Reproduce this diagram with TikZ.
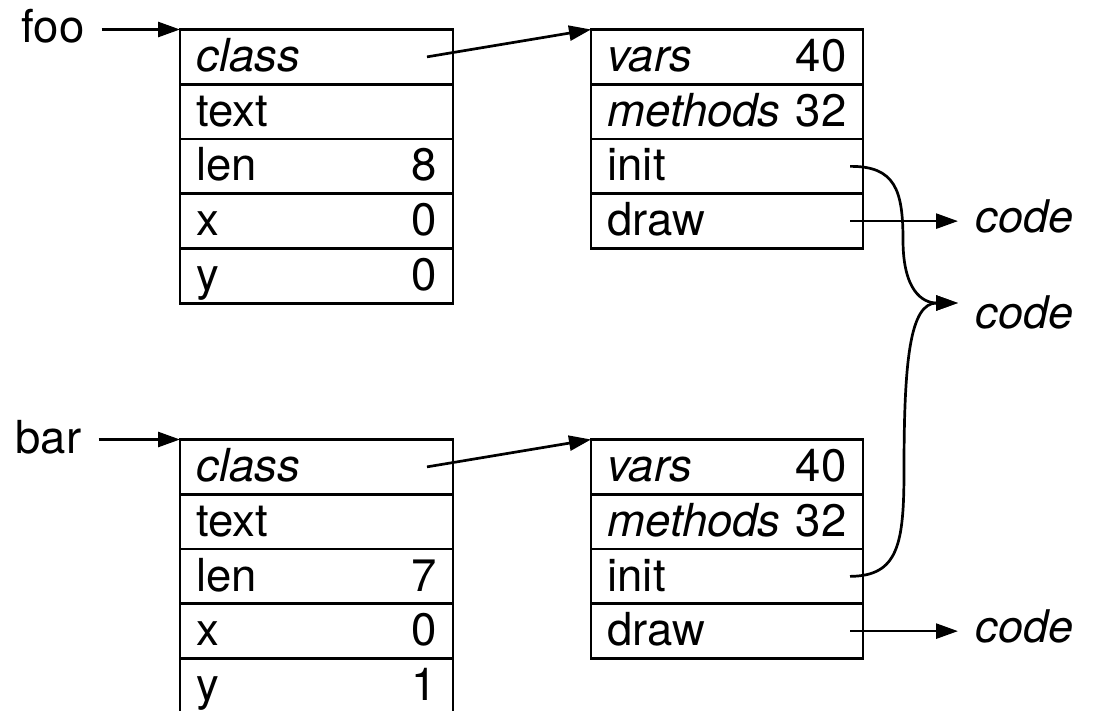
\documentclass[tikz,border=0pt]{standalone}
\usepackage{fontspec}
\setmainfont{TeX Gyre Heros}
\usetikzlibrary{arrows.meta,calc}
\begin{document}
\begin{tikzpicture}[x=1pt,y=-1pt,
  every node/.style={font=\fontsize{45.5}{50}\selectfont},
  cell/.style={draw, line width=2.7pt, minimum height=54.75pt, inner xsep=16.5pt,
    inner ysep=0pt, outer sep=0pt, text height=42pt, text depth=12.75pt,
    anchor=north west, align=left},
  lcell/.style={cell, text width=240pt},
  rcell/.style={cell, text width=239pt},
  lbl/.style={inner sep=0pt, anchor=base west},
  codelbl/.style={font=\fontsize{45}{50}\selectfont\itshape, inner xsep=17.5pt, inner ysep=0pt,
    text height=23pt, text depth=0pt, anchor=west},
  arr/.style={line width=2.7pt, -{Triangle[length=22pt,width=15pt]}}]
\useasboundingbox (0,0) rectangle (1097,711);

% foo object
\node[lcell] (f1) at (180,29.5) {\textit{class}};
\node[lcell] (f2) at (f1.south west) {text};
\node[lcell] (f3) at (f2.south west) {len\hfill 8};
\node[lcell] (f4) at (f3.south west) {x\hfill 0};
\node[lcell] (f5) at (f4.south west) {y\hfill 0};

% foo class
\node[rcell] (m1) at (591,29.5) {\textit{vars}\hfill 40};
\node[rcell] (m2) at (m1.south west) {\textit{methods}\hfill 32};
\node[rcell] (m3) at (m2.south west) {init};
\node[rcell] (m4) at (m3.south west) {draw};

% bar object
\node[lcell] (b1) at (180,439.5) {\textit{class}};
\node[lcell] (b2) at (b1.south west) {text};
\node[lcell] (b3) at (b2.south west) {len\hfill 7};
\node[lcell] (b4) at (b3.south west) {x\hfill 0};
\node[lcell] (b5) at (b4.south west) {y\hfill 1};

% bar class
\node[rcell] (n1) at (591,439.5) {\textit{vars}\hfill 40};
\node[rcell] (n2) at (n1.south west) {\textit{methods}\hfill 32};
\node[rcell] (n3) at (n2.south west) {init};
\node[rcell] (n4) at (n3.south west) {draw};

% labels
\node[lbl] (foo) at (21.5,43) {foo};
\node[lbl] (bar) at (15.5,453) {bar};

% code labels
\node[codelbl] (code1) at ($(m4.east)+(95,0)$) {code};
\node[codelbl, text height=50pt] (code2) at (958,303) {code};
\node[codelbl] (code3) at ($(n4.east)+(95,0)$) {code};

% start points
\coordinate (fc) at ($(f1.east)+(-26,0)$);
\coordinate (bc) at ($(b1.east)+(-26,0)$);
\coordinate (mi) at ($(m3.east)+(-13,0)$);
\coordinate (md) at ($(m4.east)+(-13,0)$);
\coordinate (ni) at ($(n3.east)+(-13,0)$);
\coordinate (nd) at ($(n4.east)+(-13,0)$);

% connectors
\draw[arr] ($(foo.east |- f1.north west)+(17,0)$) -- (f1.north west);
\draw[arr] ($(bar.east |- b1.north west)+(17,0)$) -- (b1.north west);
\draw[arr] (fc) -- (m1.north west);
\draw[arr] (bc) -- (n1.north west);
\draw[arr] (md) -- (code1.west);
\draw[arr] (nd) -- (code3.west);
\draw[arr] (mi) .. controls (895,166) and (903,190) .. (903,240)
                .. controls (903,290) and (922,303) .. (code2.west);
\draw[arr] (ni) .. controls (898,576) and (904,545) .. (904,470)
                .. controls (904,360) and (910,303) .. (code2.west);
\end{tikzpicture}
\end{document}
